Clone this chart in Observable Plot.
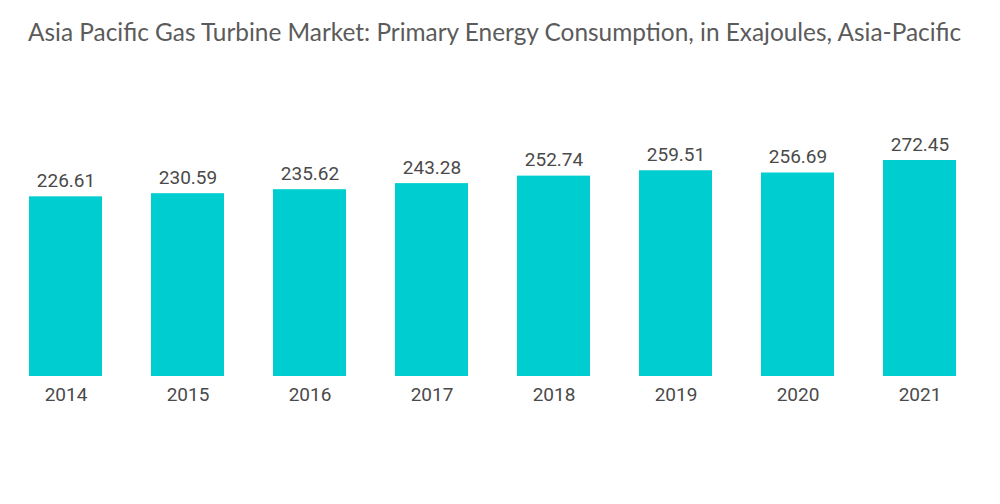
<!DOCTYPE html>
<html>
<head>
<meta charset="utf-8">
<script src="https://cdn.jsdelivr.net/npm/d3@7"></script>
<script src="https://cdn.jsdelivr.net/npm/@observablehq/plot@0.6"></script>
<style>
  body { margin: 0; background: #fff; }
  #title { font-family: "Lato", "Noto Sans", sans-serif; font-size: 24.4px; color: #5b5b5b; height: 60px; line-height: 64px; padding-left: 28px; white-space: nowrap; }
</style>
</head>
<body>
<div id="title">Asia Pacific Gas Turbine Market: Primary Energy Consumption, in Exajoules, Asia-Pacific</div>
<div id="chart"></div>
<script>
const years = ["2014", "2015", "2016", "2017", "2018", "2019", "2020", "2021"];
const values = [226.61, 230.59, 235.62, 243.28, 252.74, 259.51, 256.69, 272.45];
const data = years.map((y, i) => ({year: y, value: values[i]}));

const chart = Plot.plot({
  width: 1000,
  height: 444,
  marginTop: 100,
  marginBottom: 128,
  marginLeft: 26,
  marginRight: 40,
  style: {fontFamily: "Roboto, sans-serif", fontSize: "19px", color: "#4a4a4a"},
  x: {domain: years, paddingInner: 0.4, paddingOuter: 0, label: null, tickSize: 0, tickPadding: 11},
  y: {domain: [0, d3.max(values)], nice: false, axis: null},
  marks: [
    Plot.barY(data, {x: "year", y: "value", fill: "#00cdd0"}),
    Plot.text(data, {x: "year", y: "value", text: d => d.value.toFixed(2), dy: -10, lineAnchor: "bottom", fill: "#4a4a4a", fontSize: 19})
  ]
});
document.getElementById("chart").appendChild(chart);
</script>
</body>
</html>
